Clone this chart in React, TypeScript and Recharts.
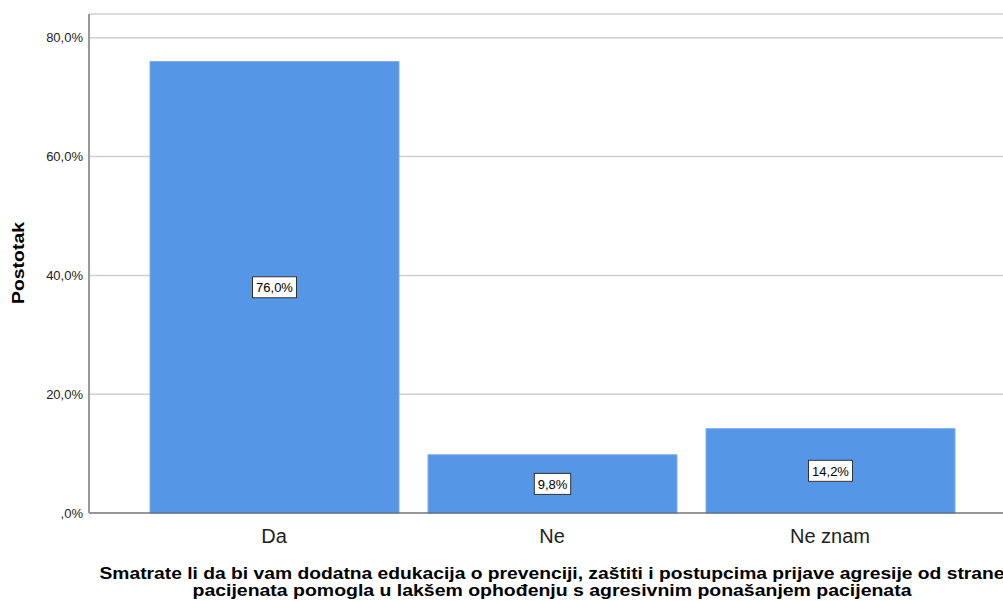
import React from "react";
import { BarChart, Bar, XAxis, YAxis, CartesianGrid, LabelList } from "recharts";

const categories = ["Da", "Ne", "Ne znam"];
const percentValues = [76.0, 9.8, 14.2];
const yTicks = [0, 20, 40, 60, 80];

const data = categories.map((c, i) => ({ name: c, value: percentValues[i] }));

const FONT = "Liberation Sans, Arial, sans-serif";
const fmt = (v: number) => (v === 0 ? ",0%" : v.toFixed(1).replace(".", ",") + "%");

const BoxLabel = (props: any) => {
  const { x, y, width, height, value } = props;
  const cx = x + width / 2;
  const cy = y + height / 2;
  const text = fmt(value);
  const w = text.length * 7.6 + 6;
  return (
    <g>
      <rect x={cx - w / 2} y={cy - 10.5} width={w} height={21} fill="#fff" stroke="#333" strokeWidth={1} />
      <text x={cx} y={cy + 5} textAnchor="middle" fontSize={13} fontFamily={FONT} fill="#000">
        {text}
      </text>
    </g>
  );
};

const CatTick = (props: any) => {
  const { x, y, payload } = props;
  return (
    <text x={x} y={y + 28} textAnchor="middle" fontSize={20} fontFamily={FONT} fill="#222">
      {payload.value}
    </text>
  );
};

export default function App() {
  return (
    <div style={{ position: "absolute", left: 0, top: 0, width: 1003, height: 601, background: "#fff" }}>
      <BarChart width={1003} height={601} data={data} margin={{ top: 14, right: 0, bottom: 0, left: 0 }}>
        <CartesianGrid vertical={false} stroke="#cfcfcf" strokeWidth={1.5} />
        <XAxis
          dataKey="name"
          height={88}
          padding={{ left: 46, right: 34 }}
          tickLine={false}
          tickSize={0}
          axisLine={{ stroke: "#555" }}
          tick={<CatTick />}
        />
        <YAxis
          width={89}
          domain={[0, 84]}
          ticks={yTicks}
          tickFormatter={fmt}
          tickLine={false}
          tickSize={0}
          axisLine={{ stroke: "#999", strokeWidth: 2 }}
          tick={{ fontSize: 13, fill: "#222", fontFamily: FONT }}
          tickMargin={6}
        />
        <Bar dataKey="value" fill="#5596e6" stroke="#7aaeea" strokeWidth={1} barSize={249} isAnimationActive={false}>
          <LabelList dataKey="value" content={<BoxLabel />} />
        </Bar>
        <text
          x={24}
          y={263}
          transform="rotate(-90 24 263)"
          textAnchor="middle"
          fontSize={17}
          fontWeight="bold"
          fontFamily={FONT}
          fill="#000"
          textLength={82}
          lengthAdjust="spacingAndGlyphs"
        >
          Postotak
        </text>
        <text x={552} y={579} textAnchor="middle" fontSize={17} fontWeight="bold" fontFamily={FONT} fill="#000" textLength={905} lengthAdjust="spacingAndGlyphs">
          Smatrate li da bi vam dodatna edukacija o prevenciji, zaštiti i postupcima prijave agresije od strane
        </text>
        <text x={552} y={596} textAnchor="middle" fontSize={17} fontWeight="bold" fontFamily={FONT} fill="#000" textLength={719} lengthAdjust="spacingAndGlyphs">
          pacijenata pomogla u lakšem ophođenju s agresivnim ponašanjem pacijenata
        </text>
      </BarChart>
    </div>
  );
}
